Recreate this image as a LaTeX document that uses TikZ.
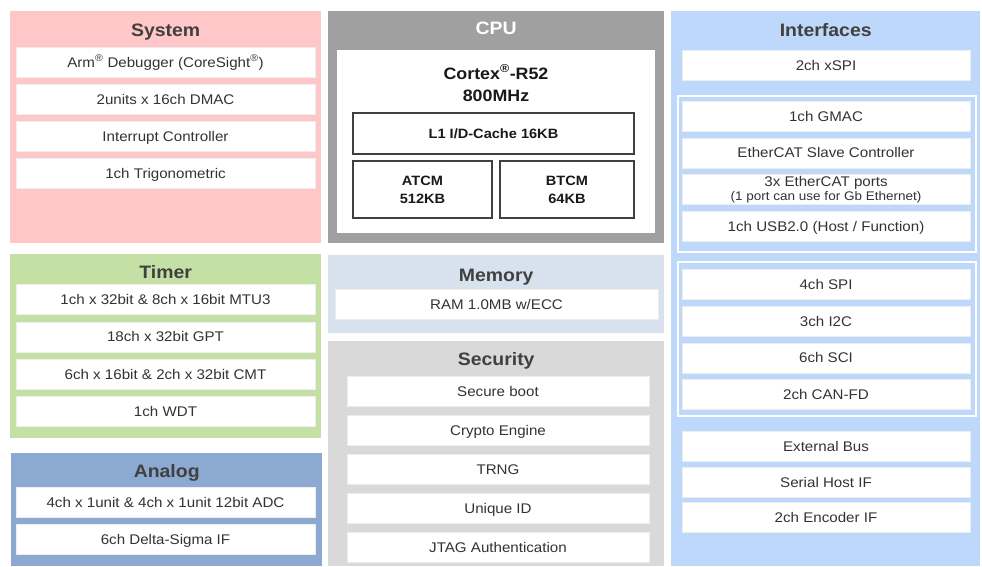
\documentclass[tikz,border=0pt]{standalone}
\usepackage{fontspec}
\setmainfont{Liberation Sans}[FakeStretch=1.08]
\usepackage{tikz}

\begin{document}
\begin{tikzpicture}[x=1pt,y=-1pt,node distance=37pt]
    \definecolor{syspink}{RGB}{255,199,199}
    \definecolor{timergreen}{RGB}{197,224,165}
    \definecolor{analogblue}{RGB}{140,169,209}
    \definecolor{cpugray}{RGB}{160,160,160}
    \definecolor{memblue}{RGB}{216,226,238}
    \definecolor{secgray}{RGB}{217,217,217}
    \definecolor{ifblue}{RGB}{189,216,250}
    \definecolor{titlegray}{RGB}{64,64,64}
    \definecolor{textgray}{RGB}{51,51,51}

    \tikzstyle{panel}=[rectangle,anchor=north west,inner sep=0pt]  % coloured block
    \tikzstyle{title}=[anchor=base,text=titlegray,font=\fontsize{18}{20}\selectfont\bfseries]  % block heading
    \tikzstyle{item}=[rectangle,draw=black!7,fill=white,text=textgray,inner sep=0pt,
        text height=11pt,text depth=1pt,
        minimum height=30pt,font=\fontsize{14}{16}\selectfont]  % white entry
    \tikzstyle{group}=[rectangle,anchor=north west,draw=white,line width=1.6pt,inner sep=0pt]  % white frame
    \tikzstyle{cpubox}=[rectangle,draw=titlegray,line width=1.3pt,fill=white,align=center,
        inner sep=0pt,text=black!90,font=\fontsize{13.5}{18}\selectfont\bfseries]

    \useasboundingbox (0,0) rectangle (982,566);

    % blocks
    \node[panel,fill=syspink,minimum width=311pt,minimum height=232pt](system) at (10,11) {};
    \node[panel,fill=cpugray,minimum width=336pt,minimum height=232pt](cpu) at (328,11) {};
    \node[panel,fill=ifblue,minimum width=309pt,minimum height=555pt](iface) at (671,11) {};
    \node[panel,fill=timergreen,minimum width=311pt,minimum height=184pt](timer) at (10,254) {};
    \node[panel,fill=analogblue,minimum width=311pt,minimum height=113pt](analog) at (11,453) {};
    \node[panel,fill=memblue,minimum width=336pt,minimum height=78pt](memory) at (328,255) {};
    \node[panel,fill=secgray,minimum width=336pt,minimum height=225pt](security) at (328,341) {};

    % headings
    \node[title](systemt) at ([yshift=-25pt]system.north) {System};
    \node[title,text=white](cput) at ([yshift=-23pt]cpu.north) {CPU};
    \node[title](ifacet) at ([yshift=-25pt]iface.north) {Interfaces};
    \node[title](timert) at ([yshift=-24pt]timer.north) {Timer};
    \node[title](analogt) at ([yshift=-24pt]analog.north) {Analog};
    \node[title](memoryt) at ([yshift=-26pt]memory.north) {Memory};
    \node[title](securityt) at ([yshift=-24pt]security.north) {Security};

    % System
    \node[item,minimum width=299pt](debug) at (165.5,62) {Arm\textsuperscript{\textregistered} Debugger (CoreSight\textsuperscript{\textregistered})};
    \node[item,minimum width=299pt,below of=debug](dmac){2units x 16ch DMAC};
    \node[item,minimum width=299pt,below of=dmac](intc){Interrupt Controller};
    \node[item,minimum width=299pt,below of=intc](trig){1ch Trigonometric};

    % CPU
    \node[panel,fill=white,minimum width=318pt,minimum height=183pt](core) at (337,50) {};
    \node[align=center,text=black!90,font=\fontsize{16.5}{22}\selectfont\bfseries](cortex) at (496,83)
        {Cortex\textsuperscript{\textregistered}-R52\\800MHz};
    \node[cpubox,minimum width=281pt,minimum height=41pt](cache) at (493.5,133.5) {L1 I/D-Cache 16KB};
    \node[cpubox,minimum width=139pt,minimum height=57pt](atcm) at (422.5,189.5) {ATCM\\512KB};
    \node[cpubox,minimum width=134pt,minimum height=57pt](btcm) at (567,189.5) {BTCM\\64KB};

    % Timer
    \node[item,minimum width=299pt](mtu) at (165.5,299.5) {1ch x 32bit \& 8ch x 16bit MTU3};
    \node[item,minimum width=299pt,below of=mtu,node distance=37.3pt](gpt){18ch x 32bit GPT};
    \node[item,minimum width=299pt,below of=gpt,node distance=37.3pt](cmt){6ch x 16bit \& 2ch x 32bit CMT};
    \node[item,minimum width=299pt,below of=cmt,node distance=37.3pt](wdt){1ch WDT};

    % Analog
    \node[item,minimum width=299pt](adc) at (165.5,502) {4ch x 1unit \& 4ch x 1unit 12bit ADC};
    \node[item,minimum width=299pt,below of=adc,node distance=37.5pt](dsif){6ch Delta-Sigma IF};

    % Memory
    \node[item,minimum width=323pt](ram) at (496.5,304.5) {RAM 1.0MB w/ECC};

    % Security
    \node[item,minimum width=302pt](boot) at (498,391.5) {Secure boot};
    \node[item,minimum width=302pt,below of=boot,node distance=39pt](crypto){Crypto Engine};
    \node[item,minimum width=302pt,below of=crypto,node distance=39pt](trng){TRNG};
    \node[item,minimum width=302pt,below of=trng,node distance=39pt](uid){Unique ID};
    \node[item,minimum width=302pt,below of=uid,node distance=39pt](jtag){JTAG Authentication};

    % Interfaces
    \node[group,minimum width=298pt,minimum height=156pt](ethgroup) at (677,95) {};
    \node[group,minimum width=298pt,minimum height=154pt](sergroup) at (677,261) {};
    \node[item,minimum width=288pt](xspi) at (826,65) {2ch xSPI};
    \node[item,minimum width=288pt](gmac) at (826,116) {1ch GMAC};
    \node[item,minimum width=288pt,below of=gmac,node distance=36.8pt](esc){EtherCAT Slave Controller};
    \node[item,minimum width=288pt,below of=esc,node distance=36.8pt,align=center,
        text height=25pt,text depth=3pt,font=\fontsize{14}{14}\selectfont](ports)
        {3x EtherCAT ports\\{\fontsize{12.5}{14}\selectfont (1 port can use for Gb Ethernet)}};
    \node[item,minimum width=288pt,below of=ports,node distance=36.8pt](usb){1ch USB2.0 (Host / Function)};
    \node[item,minimum width=288pt](spi) at (826,284.5) {4ch SPI};
    \node[item,minimum width=288pt,below of=spi,node distance=36.7pt](iic){3ch I2C};
    \node[item,minimum width=288pt,below of=iic,node distance=36.7pt](sci){6ch SCI};
    \node[item,minimum width=288pt,below of=sci,node distance=36.7pt](canfd){2ch CAN-FD};
    \node[item,minimum width=288pt](extbus) at (826,446.5) {External Bus};
    \node[item,minimum width=288pt,below of=extbus,node distance=35.5pt](shif){Serial Host IF};
    \node[item,minimum width=288pt,below of=shif,node distance=35.5pt](encif){2ch Encoder IF};
\end{tikzpicture}
\end{document}
